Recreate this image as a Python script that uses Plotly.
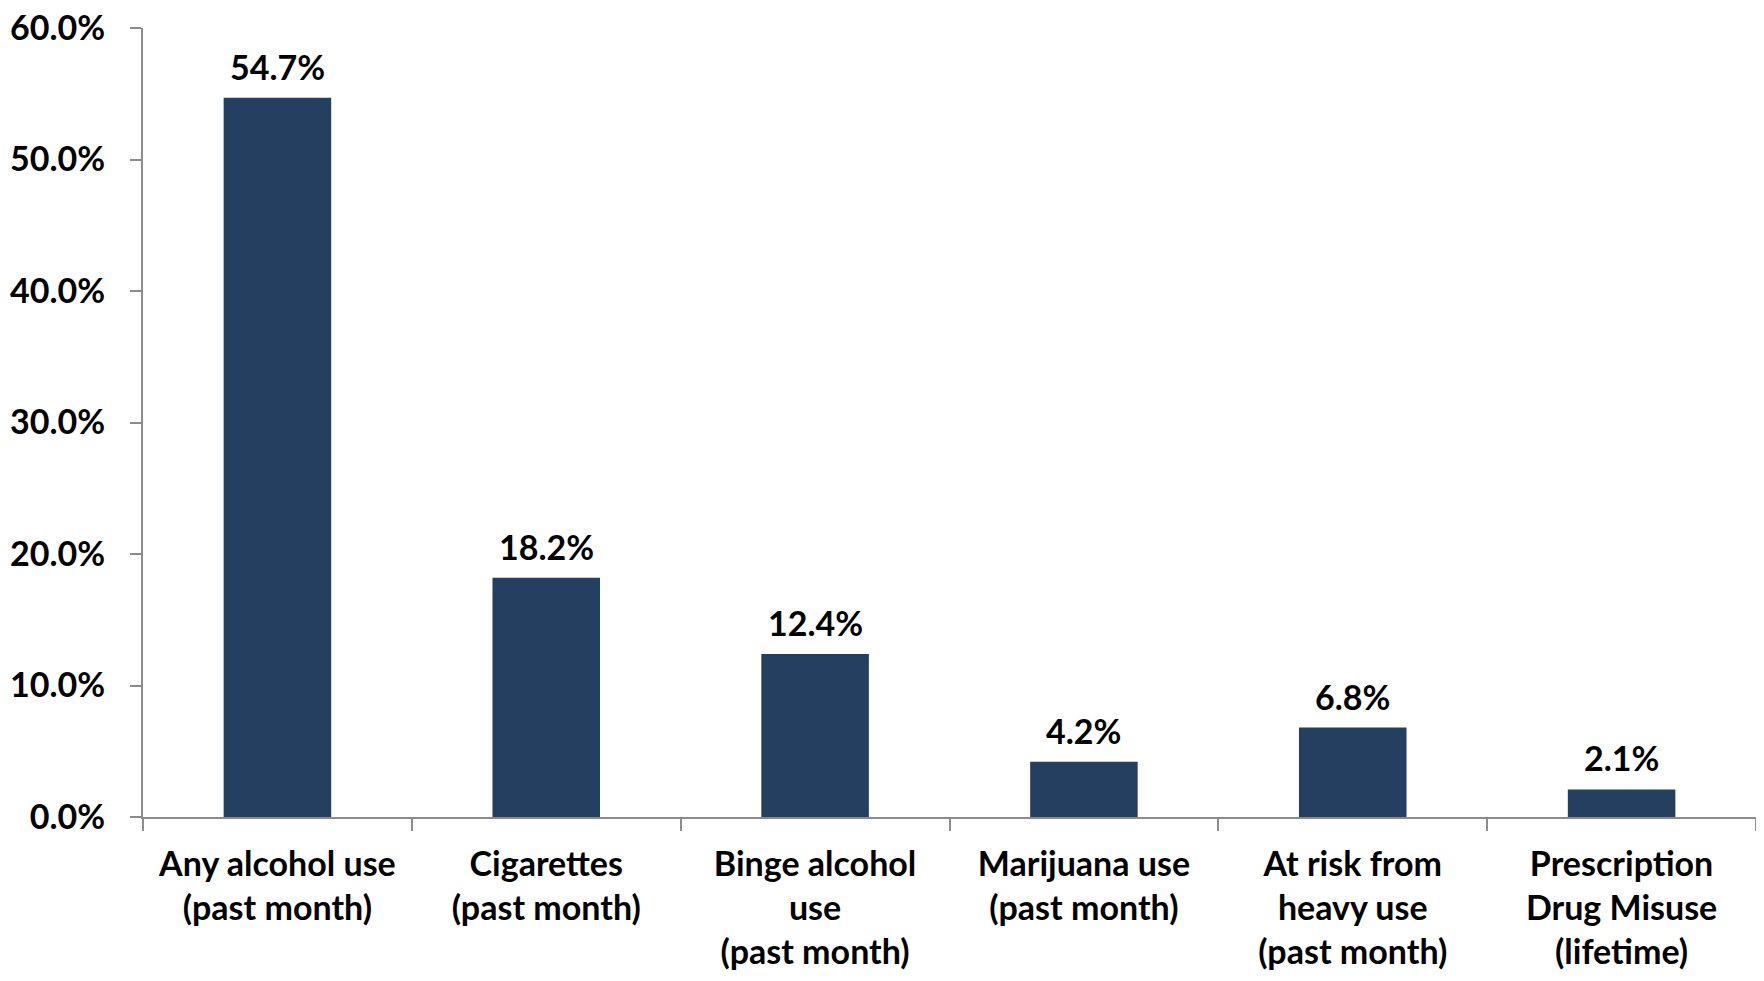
import plotly.graph_objects as go

categories = [
    "Any alcohol use<br>(past month)",
    "Cigarettes<br>(past month)",
    "Binge alcohol<br>use<br>(past month)",
    "Marijuana use<br>(past month)",
    "At risk from<br>heavy use<br>(past month)",
    "Prescription<br>Drug Misuse<br>(lifetime)",
]
values = [54.7, 18.2, 12.4, 4.2, 6.8, 2.1]
y_ticks = [0, 10, 20, 30, 40, 50, 60]

FONT = "Lato"
BAR = "#243F60"
AXIS = "#8C8C8C"
SIZE = 34

fig = go.Figure(
    go.Bar(
        x=categories,
        y=values,
        marker=dict(color=BAR, line=dict(width=0)),
        hoverinfo="x+y",
    )
)

for c, v in zip(categories, values):
    fig.add_annotation(
        x=c, y=v, xref="x", yref="y",
        text=f"{v:.1f}%",
        showarrow=False,
        yanchor="bottom",
        yshift=9,
        font=dict(family=FONT, size=SIZE, color="#000000", weight="bold"),
    )

fig.update_layout(
    width=1748,
    height=965,
    margin=dict(l=135, r=0, t=20, b=156, autoexpand=False),
    paper_bgcolor="white",
    plot_bgcolor="white",
    bargap=0.6,
    showlegend=False,
    font=dict(family=FONT, color="#000000"),
)

fig.update_xaxes(
    type="category",
    showline=True,
    linecolor=AXIS,
    linewidth=2,
    ticks="outside",
    tickson="boundaries",
    ticklen=12,
    tickcolor=AXIS,
    tickwidth=2,
    tickfont=dict(family=FONT, size=SIZE, color="#000000", weight="bold"),
    ticklabelstandoff=16,
    ticklabeloverflow="allow",
    tickangle=0,
    showgrid=False,
    automargin=False,
)

fig.update_yaxes(
    range=[0, 60],
    tickvals=y_ticks,
    ticktext=[f"{v:.1f}%" for v in y_ticks],
    showline=True,
    linecolor=AXIS,
    linewidth=2,
    ticks="outside",
    ticklen=11,
    tickcolor=AXIS,
    tickwidth=2,
    tickfont=dict(family=FONT, size=SIZE, color="#000000", weight="bold"),
    ticklabelstandoff=18,
    ticklabeloverflow="allow",
    showgrid=False,
    zeroline=False,
    automargin=False,
)

fig.write_html("out.html")
